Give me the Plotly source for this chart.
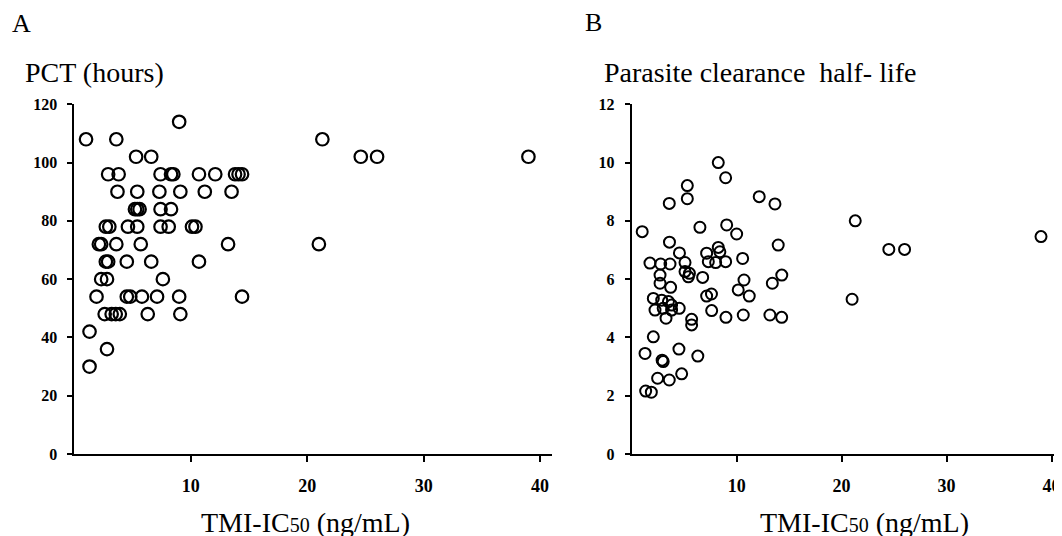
import plotly.graph_objects as go

W, H = 1062, 536
OFF = 8  # page body margin offset of the plot in the browser

# ---- Panel A : PCT (hours) vs TMI-IC50 ----
a_x = [1.0, 3.6, 9.0, 5.3, 6.6,
       2.9, 3.8, 7.4, 8.3, 8.5, 10.7, 12.1, 13.8, 14.1, 14.4,
       3.7, 5.4, 7.3, 9.1, 11.2, 13.5,
       5.2, 5.4, 5.6, 7.4, 8.3,
       2.7, 3.0, 4.6, 5.4, 7.4, 8.1, 10.1, 10.4,
       2.1, 2.3, 3.6, 5.7, 13.2,
       2.7, 2.9, 4.5, 6.6, 10.7,
       2.3, 2.8, 7.6,
       1.9, 4.5, 4.8, 5.8, 7.1, 9.0, 14.4,
       2.6, 3.2, 3.55, 3.9, 6.3, 9.1,
       1.3, 2.8, 1.3,
       21.3, 24.6, 26.0, 39.0, 21.0]
a_y = [108, 108, 114, 102, 102,
       96, 96, 96, 96, 96, 96, 96, 96, 96, 96,
       90, 90, 90, 90, 90, 90,
       84, 84, 84, 84, 84,
       78, 78, 78, 78, 78, 78, 78, 78,
       72, 72, 72, 72, 72,
       66, 66, 66, 66, 66,
       60, 60, 60,
       54, 54, 54, 54, 54, 54, 54,
       48, 48, 48, 48, 48, 48,
       42, 36, 30,
       108, 102, 102, 102, 72]

# ---- Panel B : Parasite clearance half-life vs TMI-IC50 ----
b_x = [1.0, 8.25, 8.95, 5.3, 5.3, 3.58, 12.15, 13.65, 6.5, 9.05, 10.0, 3.6,
       13.96, 4.55, 7.14, 8.25, 8.4, 1.74, 2.76, 3.65, 5.08, 7.3, 8.0, 8.95,
       10.57, 5.08, 5.5, 5.4, 6.76, 2.7, 2.7, 3.71, 10.7, 10.15, 11.2, 14.3,
       13.4, 7.14, 7.6, 2.06, 2.86, 3.5, 3.8, 2.22, 3.0, 4.53, 3.8, 3.27,
       5.71, 5.71, 7.62, 8.98, 10.63, 13.17, 14.29, 2.06, 1.27, 2.9, 3.0,
       4.5, 6.3, 2.47, 3.58, 4.76, 1.33, 1.87,
       21.3, 24.5, 26.0, 39.0, 21.0]
b_y = [7.63, 10.0, 9.48, 9.21, 8.76, 8.6, 8.83, 8.58, 7.78, 7.86, 7.55, 7.27,
       7.17, 6.9, 6.89, 7.09, 6.94, 6.55, 6.52, 6.52, 6.57, 6.6, 6.57, 6.6,
       6.71, 6.26, 6.2, 6.08, 6.06, 6.14, 5.86, 5.72, 5.97, 5.63, 5.42, 6.14,
       5.86, 5.42, 5.49, 5.34, 5.28, 5.23, 5.11, 4.94, 5.0, 5.0, 4.94, 4.66,
       4.62, 4.43, 4.92, 4.69, 4.77, 4.77, 4.69, 4.02, 3.45, 3.22, 3.17,
       3.6, 3.36, 2.6, 2.54, 2.75, 2.16, 2.12,
       8.0, 7.02, 7.02, 7.46, 5.31]

x_ticks = [10, 20, 30, 40]
a_yticks = [0, 20, 40, 60, 80, 100, 120]
b_yticks = [0, 2, 4, 6, 8, 10, 12]

SERIF = "Liberation Serif, Times New Roman, serif"

def px_x(p):
    return (p - OFF) / W

def px_y(p):
    return 1 - (p - OFF) / H

fig = go.Figure()
fig.add_trace(go.Scatter(
    x=a_x, y=a_y, mode="markers", xaxis="x", yaxis="y",
    marker=dict(symbol="circle-open", size=12.5, color="black",
                line=dict(width=2.2, color="black")),
    showlegend=False, hoverinfo="skip"))
fig.add_trace(go.Scatter(
    x=b_x, y=b_y, mode="markers", xaxis="x2", yaxis="y2",
    marker=dict(symbol="circle-open", size=11, color="black",
                line=dict(width=2, color="black")),
    showlegend=False, hoverinfo="skip"))

ydom = [px_y(454), px_y(104.3)]
common_x = dict(range=[0, 41], showline=True, linecolor="black", linewidth=2,
                ticks="outside", ticklen=6, tickwidth=2, tickcolor="black",
                tickvals=x_ticks, showgrid=False, zeroline=False,
                tickfont=dict(family=SERIF, size=18, color="black", weight="bold"),
                ticklabelstandoff=8, automargin=False, fixedrange=True)
common_y = dict(showline=True, linecolor="black", linewidth=2,
                ticks="outside", ticklen=5, tickwidth=2, tickcolor="black",
                showgrid=False, zeroline=False, domain=ydom,
                tickfont=dict(family=SERIF, size=16, color="black", weight="bold"),
                ticklabelstandoff=7, automargin=False, fixedrange=True)

fig.update_layout(
    width=W, height=H,
    margin=dict(l=0, r=0, t=0, b=0),
    paper_bgcolor="white", plot_bgcolor="white",
    xaxis=dict(domain=[px_x(74.4), px_x(551.7)], anchor="y", **common_x),
    yaxis=dict(range=[0, 120], tickvals=a_yticks, anchor="x", **common_y),
    xaxis2=dict(domain=[px_x(631.7), px_x(1062)], anchor="y2", **common_x),
    yaxis2=dict(range=[0, 12], tickvals=b_yticks, anchor="x2", **common_y),
)

def ann(text, x, y, size, xanchor="left"):
    fig.add_annotation(text=text, x=px_x(x), y=px_y(y), xref="paper", yref="paper",
                       xanchor=xanchor, yanchor="middle", showarrow=False,
                       font=dict(family=SERIF, size=size, color="black"))

ann("A", 10, 24, 26)
ann("B", 583, 22, 26)
ann("PCT (hours)", 23, 72, 28)
ann("Parasite clearance&nbsp; half- life", 602, 72, 28)
sub = "<span style='font-size:20px'>50</span>"
ann("TMI-IC" + sub + " (ng/mL)", 305, 522, 28, xanchor="center")
ann("TMI-IC" + sub + " (ng/mL)", 864, 522, 28, xanchor="center")

fig.write_html("out.html")
